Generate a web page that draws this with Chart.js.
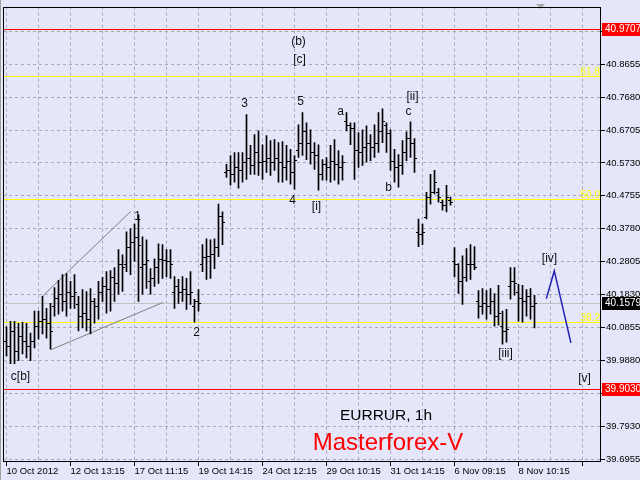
<!DOCTYPE html>
<html>
<head>
<meta charset="utf-8">
<script src="https://cdn.jsdelivr.net/npm/chart.js@4.4.0/dist/chart.umd.min.js"></script>
<style>
  html, body { margin: 0; padding: 0; background: #e6e6fa; }
  canvas { display: block; }
</style>
</head>
<body>
<canvas id="chart" width="640" height="480"></canvas>
<script>
// 数据：EURRUR 1h 柱状图 (OHLC)
var openP = [40.045,40.031,40.075,40.016,40.060,40.045,40.031,40.045,40.089,40.104,
  40.110,40.098,40.148,40.172,40.186,40.163,40.192,40.178,40.154,40.119,
  40.128,40.110,40.163,40.148,40.192,40.207,40.198,40.236,40.216,40.275,
  40.275,40.325,40.339,40.354,40.266,40.275,40.222,40.231,40.266,40.289,
  40.286,40.281,40.192,40.207,40.192,40.198,40.186,40.148,40.163,40.275,
  40.295,40.298,40.304,40.325,40.416,40.545,40.551,40.539,40.560,40.551,
  40.575,40.589,40.566,40.604,40.575,40.580,40.589,40.575,40.589,40.575,
  40.560,40.580,40.545,40.610,40.633,40.668,40.633,40.604,40.598,40.539,
  40.569,40.560,40.580,40.569,40.560,40.698,40.686,40.677,40.610,40.604,
  40.619,40.633,40.619,40.633,40.668,40.686,40.663,40.580,40.560,40.566,
  40.604,40.648,40.633,40.369,40.363,40.413,40.472,40.486,40.486,40.457,
  40.448,40.463,40.281,40.275,40.222,40.236,40.275,40.275,40.163,40.148,
  40.157,40.148,40.163,40.119,40.089,40.075,40.207,40.222,40.192,40.172,
  40.163,40.178,40.148];
var highP = [40.087,40.104,40.104,40.098,40.101,40.098,40.069,40.134,40.134,40.178,
  40.142,40.157,40.204,40.225,40.242,40.245,40.222,40.242,40.178,40.198,
  40.192,40.201,40.172,40.222,40.234,40.251,40.254,40.263,40.316,40.301,
  40.369,40.378,40.392,40.419,40.354,40.345,40.260,40.289,40.333,40.331,
  40.316,40.316,40.236,40.228,40.236,40.231,40.251,40.169,40.198,40.331,
  40.348,40.345,40.348,40.451,40.428,40.569,40.595,40.604,40.604,40.604,
  40.716,40.625,40.657,40.668,40.627,40.654,40.639,40.642,40.633,40.636,
  40.625,40.613,40.595,40.686,40.722,40.692,40.671,40.633,40.627,40.583,
  40.589,40.625,40.642,40.610,40.595,40.722,40.692,40.692,40.663,40.671,
  40.683,40.657,40.686,40.722,40.733,40.692,40.671,40.613,40.598,40.639,
  40.665,40.695,40.645,40.407,40.392,40.486,40.539,40.551,40.498,40.463,
  40.507,40.472,40.322,40.275,40.298,40.319,40.331,40.325,40.195,40.201,
  40.195,40.201,40.186,40.210,40.134,40.139,40.263,40.263,40.213,40.210,
  40.198,40.201,40.181];
var lowP = [40.001,39.978,39.978,39.987,40.007,39.995,39.987,40.025,40.051,40.066,
  40.054,40.022,40.119,40.125,40.134,40.119,40.142,40.142,40.075,40.084,
  40.075,40.066,40.098,40.110,40.163,40.128,40.134,40.163,40.184,40.192,
  40.251,40.242,40.281,40.163,40.184,40.201,40.184,40.207,40.216,40.231,
  40.236,40.231,40.142,40.157,40.163,40.139,40.154,40.101,40.134,40.251,
  40.228,40.231,40.260,40.295,40.331,40.530,40.507,40.516,40.498,40.516,
  40.524,40.539,40.539,40.536,40.524,40.545,40.536,40.551,40.516,40.516,
  40.522,40.510,40.495,40.589,40.595,40.583,40.569,40.554,40.492,40.522,
  40.522,40.516,40.522,40.510,40.522,40.668,40.627,40.524,40.560,40.566,
  40.575,40.580,40.589,40.604,40.633,40.604,40.551,40.516,40.501,40.539,
  40.580,40.589,40.545,40.325,40.331,40.407,40.451,40.481,40.457,40.433,
  40.428,40.448,40.236,40.186,40.154,40.222,40.228,40.257,40.113,40.125,
  40.110,40.125,40.089,40.092,40.036,40.042,40.169,40.181,40.104,40.101,
  40.119,40.110,40.084];
var closeP = [40.031,40.075,40.016,40.060,40.045,40.031,40.045,40.089,40.104,40.110,
  40.098,40.075,40.172,40.186,40.163,40.192,40.178,40.192,40.119,40.128,
  40.110,40.163,40.148,40.192,40.207,40.198,40.236,40.216,40.275,40.266,
  40.325,40.339,40.354,40.331,40.275,40.286,40.231,40.266,40.289,40.286,
  40.281,40.275,40.207,40.192,40.198,40.186,40.192,40.163,40.157,40.295,
  40.298,40.304,40.325,40.416,40.398,40.551,40.539,40.560,40.551,40.575,
  40.589,40.566,40.604,40.575,40.580,40.589,40.575,40.589,40.575,40.560,
  40.580,40.545,40.583,40.633,40.668,40.633,40.604,40.598,40.539,40.569,
  40.560,40.580,40.569,40.560,40.575,40.686,40.677,40.610,40.604,40.619,
  40.633,40.619,40.633,40.668,40.698,40.663,40.580,40.560,40.566,40.604,
  40.648,40.633,40.589,40.363,40.369,40.472,40.486,40.516,40.472,40.448,
  40.472,40.457,40.275,40.222,40.236,40.275,40.275,40.266,40.148,40.157,
  40.148,40.163,40.119,40.128,40.075,40.081,40.222,40.216,40.172,40.163,
  40.178,40.148,40.158];

// 坐标轴刻度
var xTickLabels = ['10 Oct 2012', '12 Oct 13:15', '17 Oct 11:15', '19 Oct 14:15', '24 Oct 12:15',
                   '29 Oct 10:15', '31 Oct 14:15', '6 Nov 09:15', '8 Nov 10:15'];
var yTickValues = [40.9630, 40.8655, 40.7680, 40.6705, 40.5730, 40.4755, 40.3780, 40.2805,
                   40.1830, 40.0855, 39.9880, 39.8905, 39.7930, 39.6955];

// 水平线
var redLevels = [40.9707, 39.9030];
var bidPrice = 40.1579;
var fibLevels = [40.830, 40.466, 40.101];
var fibNames = ['61.8', '50.0', '38.2'];

// 趋势线 (楔形) 和预测线
var wedgeUpper = [{x: 9, y: 40.178}, {x: 31.1, y: 40.430}];
var wedgeLower = [{x: 11, y: 40.019}, {x: 39.2, y: 40.160}];
var projection = [{x: 134.95, y: 40.171}, {x: 136.95, y: 40.253}, {x: 141.1, y: 40.040}];

// 波浪标记
var waveLabels = [
  ['c[b]', 3.5, 39.940], ['1', 32.75, 40.413], ['2', 47.5, 40.069], ['3', 59.5, 40.748],
  ['(b)', 73, 40.933], ['[c]', 73.25, 40.880], ['5', 73.5, 40.754], ['4', 71.5, 40.460],
  ['[i]', 77.5, 40.442], ['a', 83.5, 40.724], ['b', 95.5, 40.501], ['c', 100.5, 40.724],
  ['[ii]', 101.5, 40.769], ['[iii]', 124.75, 40.007], ['[iv]', 135.75, 40.289], ['[v]', 144.5, 39.934]
];

var X_MIN = -0.875, X_MAX = 148.625;
var Y_MIN = 39.6868, Y_MAX = 41.0360;
var FONT = '"Liberation Sans", Arial, sans-serif';

function lineSet(data, color, width, order) {
    return {
        type: 'line', data: data, borderColor: color, borderWidth: width,
        pointRadius: 0, fill: false, tension: 0, order: order
    };
}

var bars = highP.map(function(h, i) { return {x: i, y: [lowP[i], h]}; });

var datasets = [{
    type: 'bar', data: bars, backgroundColor: '#000000',
    barThickness: 1, grouped: false, order: 0
}];
datasets.push(lineSet(wedgeUpper, '#808080', 1, 2));
datasets.push(lineSet(wedgeLower, '#808080', 1, 2));
datasets.push(lineSet(projection, '#2020b0', 1.5, 1));

// 水平线：通过 y 轴比例尺换算
function drawLevel(chart, value, color) {
    var c = chart.ctx, a = chart.chartArea;
    var y = Math.round(chart.scales.y.getPixelForValue(value)) + 0.5;
    c.strokeStyle = color;
    c.lineWidth = 1;
    c.beginPath();
    c.moveTo(a.left, y);
    c.lineTo(a.right, y);
    c.stroke();
}

// 背景、边框、开收盘刻度、文字
var decorPlugin = {
    id: 'decor',
    beforeDraw: function(chart) {
        var c = chart.ctx;
        c.save();
        c.fillStyle = '#e6e6fa';
        c.fillRect(0, 0, chart.width, chart.height);
        c.fillStyle = '#a0a0a0';
        c.fillRect(0, 0, 1, chart.height);
        c.restore();
    },
    beforeDatasetsDraw: function(chart) {
        var c = chart.ctx;
        c.save();
        drawLevel(chart, bidPrice, '#c0c0c0');
        fibLevels.forEach(function(v) { drawLevel(chart, v, '#ffff00'); });
        redLevels.forEach(function(v) { drawLevel(chart, v, '#ff0000'); });
        c.restore();
    },
    afterDatasetsDraw: function(chart) {
        var c = chart.ctx;
        var ys = chart.scales.y;
        var a = chart.chartArea;
        c.save();
        // open / close ticks
        c.fillStyle = '#000000';
        chart.getDatasetMeta(0).data.forEach(function(el, i) {
            var px = Math.floor(el.x);
            var yo = Math.round(ys.getPixelForValue(openP[i]));
            var yc = Math.round(ys.getPixelForValue(closeP[i]));
            c.fillRect(px - 2, yo, 2, 1);
            c.fillRect(px + 1, yc, 2, 1);
        });
        // fib labels
        c.fillStyle = '#ffff00';
        c.font = '10px ' + FONT;
        c.textAlign = 'right';
        c.textBaseline = 'bottom';
        fibLevels.forEach(function(v, k) {
            c.fillText(fibNames[k], a.right - 1, ys.getPixelForValue(v) + 1);
        });
        // wave labels
        c.fillStyle = '#101010';
        c.font = '12px ' + FONT;
        c.textAlign = 'center';
        c.textBaseline = 'middle';
        waveLabels.forEach(function(w) {
            c.fillText(w[0], chart.scales.x.getPixelForValue(w[1]), ys.getPixelForValue(w[2]));
        });
        // titles
        c.font = '15.5px ' + FONT;
        c.fillStyle = '#000000';
        c.fillText('EURRUR, 1h', 386, 416);
        c.font = '24px ' + FONT;
        c.fillStyle = '#ff0000';
        c.fillText('Masterforex-V', 388, 443);
        // shift marker
        c.fillStyle = '#a8a8a8';
        c.beginPath();
        c.moveTo(536, 4); c.lineTo(545, 4); c.lineTo(540.5, 9); c.closePath();
        c.fill();
        // border
        c.strokeStyle = '#000000';
        c.lineWidth = 1;
        c.strokeRect(Math.round(a.left) + 0.5, Math.round(a.top) + 0.5,
                     Math.round(a.right - a.left) - 1, Math.round(a.bottom - a.top) - 1);
        c.restore();
    },
    afterDraw: function(chart) {
        var c = chart.ctx;
        var ys = chart.scales.y;
        var a = chart.chartArea;
        c.save();
        c.font = '10px ' + FONT;
        c.textAlign = 'left';
        c.textBaseline = 'middle';
        var tags = [[redLevels[0], '#ff0000'], [bidPrice, '#000000'], [redLevels[1], '#ff0000']];
        tags.forEach(function(t) {
            var y = Math.round(ys.getPixelForValue(t[0]));
            c.fillStyle = t[1];
            c.fillRect(a.right + 1, y - 6, 40, 13);
            c.fillStyle = '#ffffff';
            c.fillText(t[0].toFixed(4), a.right + 4, y + 0.5);
        });
        c.restore();
    }
};

var chart = new Chart(document.getElementById('chart').getContext('2d'), {
    type: 'bar',
    data: { datasets: datasets },
    options: {
        responsive: false,
        animation: false,
        devicePixelRatio: 1,
        layout: { padding: { left: 3, top: 3, right: 0, bottom: 0 } },
        plugins: { legend: { display: false }, tooltip: { enabled: false } },
        scales: {
            x: {
                type: 'linear', min: X_MIN, max: X_MAX, offset: false,
                afterBuildTicks: function(s) {
                    var t = [];
                    for (var v = 0; v <= 144; v += 8) t.push({value: v});
                    s.ticks = t;
                },
                afterFit: function(s) { s.height = 18; },
                grid: {
                    color: '#a8a8b8', offset: false, tickLength: 4,
                    tickColor: function(ctx) { return ctx.index % 2 === 0 ? '#000000' : 'rgba(0,0,0,0)'; }
                },
                border: { display: false, dash: [3, 3] },
                ticks: {
                    autoSkip: false, maxRotation: 0, align: 'start', padding: 0,
                    color: '#000000', font: { family: FONT, size: 9.5 },
                    callback: function(v, i) { return i % 2 === 0 ? (xTickLabels[i / 2] || '') : ''; }
                }
            },
            y: {
                position: 'right', min: Y_MIN, max: Y_MAX,
                afterBuildTicks: function(s) {
                    s.ticks = yTickValues.map(function(v) { return {value: v}; });
                },
                afterFit: function(s) { s.width = 39; },
                grid: { color: '#a8a8b8', tickLength: 4, tickColor: '#000000' },
                border: { display: false, dash: [3, 3] },
                ticks: {
                    padding: 1, color: '#000000', font: { family: FONT, size: 9.5 },
                    callback: function(v) { return Number(v).toFixed(4); }
                }
            }
        }
    },
    plugins: [decorPlugin]
});
</script>
</body>
</html>
